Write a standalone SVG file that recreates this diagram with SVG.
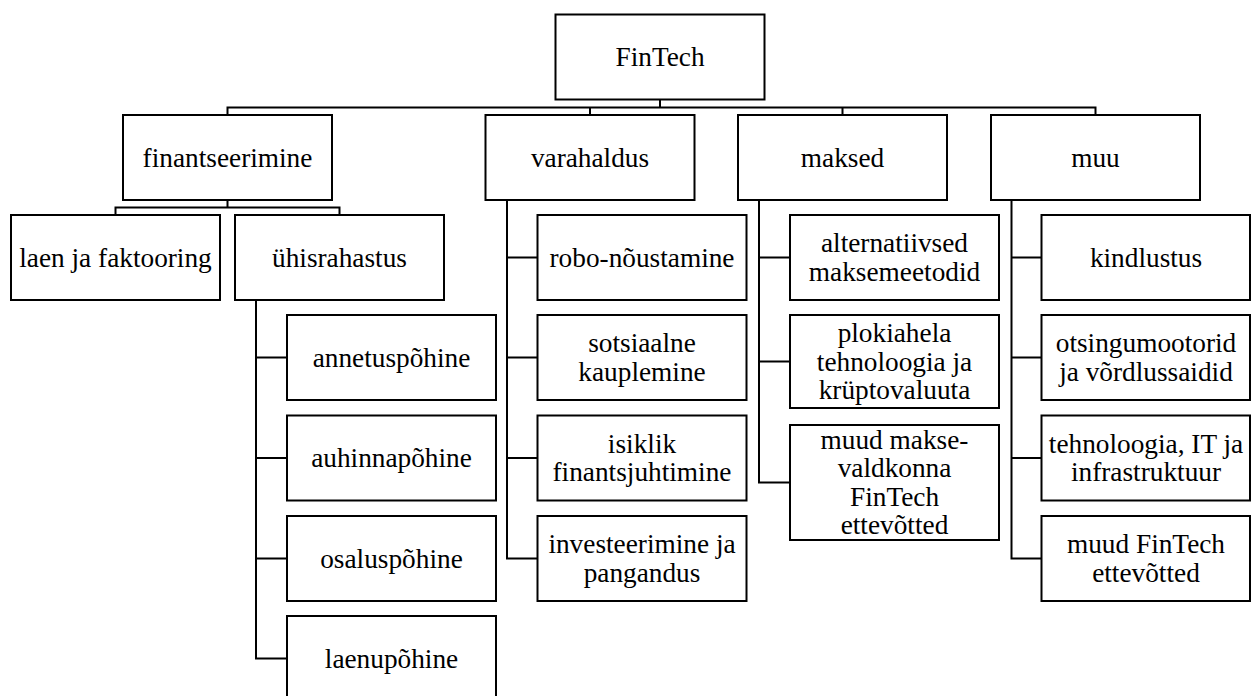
<svg xmlns="http://www.w3.org/2000/svg" width="1251" height="696" viewBox="0 0 1251 696">
<style>
.box{fill:#fff;stroke:#000;stroke-width:2}
.lbl{font-family:"Liberation Serif","Times New Roman",serif;font-size:27.3px;fill:#000;text-anchor:middle}
.con{fill:none;stroke:#000;stroke-width:2;stroke-linejoin:miter}
</style>
<rect width="1251" height="696" fill="#fff"/>
<g id="connectors" class="con">
<path d="M660 99.5V107.5M227.5 115V107.5H1095.5V115M590 107.5V115M842.5 107.5V115"/>
<path d="M227.5 200V207.5M115.5 215V207.5H339.5V215"/>
<path d="M256 300V658.5H287M256 357.5H287M256 458H287M256 558.5H287"/>
<path d="M507 200V558.5H537.5M507 257.5H537.5M507 357.5H537.5M507 458H537.5"/>
<path d="M759 200V482.5H790M759 257.5H790M759 361.5H790"/>
<path d="M1011.5 200V558.5H1041.5M1011.5 257.5H1041.5M1011.5 357.5H1041.5M1011.5 458H1041.5"/>
</g>
<g id="n-fintech"><rect class="box" x="555.5" y="14.5" width="209" height="85"/><text class="lbl" x="660" y="66">FinTech</text></g>
<g id="n-finantseerimine"><rect class="box" x="123" y="115" width="209" height="85"/><text class="lbl" x="227.5" y="166.5">finantseerimine</text></g>
<g id="n-varahaldus"><rect class="box" x="485.5" y="115" width="209" height="85"/><text class="lbl" x="590" y="166.5">varahaldus</text></g>
<g id="n-maksed"><rect class="box" x="738" y="115" width="209" height="85"/><text class="lbl" x="842.5" y="166.5">maksed</text></g>
<g id="n-muu"><rect class="box" x="991" y="115" width="209" height="85"/><text class="lbl" x="1095.5" y="166.5">muu</text></g>
<g id="n-laen"><rect class="box" x="11" y="215" width="209" height="85"/><text class="lbl" x="115.5" y="266.5">laen ja faktooring</text></g>
<g id="n-uhisrahastus"><rect class="box" x="235" y="215" width="209" height="85"/><text class="lbl" x="339.5" y="266.5">ühisrahastus</text></g>
<g id="n-annetus"><rect class="box" x="287" y="315" width="209" height="85"/><text class="lbl" x="391.5" y="366.5">annetuspõhine</text></g>
<g id="n-auhinna"><rect class="box" x="287" y="415.5" width="209" height="85"/><text class="lbl" x="391.5" y="467">auhinnapõhine</text></g>
<g id="n-osalus"><rect class="box" x="287" y="516" width="209" height="85"/><text class="lbl" x="391.5" y="567.5">osaluspõhine</text></g>
<g id="n-laenu"><rect class="box" x="287" y="616" width="209" height="85"/><text class="lbl" x="391.5" y="667.5">laenupõhine</text></g>
<g id="n-robo"><rect class="box" x="537.5" y="215" width="209" height="85"/><text class="lbl" x="642" y="266.5">robo-nõustamine</text></g>
<g id="n-sotsiaalne"><rect class="box" x="537.5" y="315" width="209" height="85"/><text class="lbl" x="642" y="352.4">sotsiaalne</text><text class="lbl" x="642" y="380.7">kauplemine</text></g>
<g id="n-isiklik"><rect class="box" x="537.5" y="415.5" width="209" height="85"/><text class="lbl" x="642" y="452.9">isiklik</text><text class="lbl" x="642" y="481.2">finantsjuhtimine</text></g>
<g id="n-investeerimine"><rect class="box" x="537.5" y="516" width="209" height="85"/><text class="lbl" x="642" y="553.4">investeerimine ja</text><text class="lbl" x="642" y="581.7">pangandus</text></g>
<g id="n-alternatiivsed"><rect class="box" x="790" y="215" width="209" height="85"/><text class="lbl" x="894.5" y="252.4">alternatiivsed</text><text class="lbl" x="894.5" y="280.7">maksemeetodid</text></g>
<g id="n-plokiahela"><rect class="box" x="790" y="315" width="209" height="93"/><text class="lbl" x="894.5" y="342.2">plokiahela</text><text class="lbl" x="894.5" y="370.5">tehnoloogia ja</text><text class="lbl" x="894.5" y="398.8">krüptovaluuta</text></g>
<g id="n-muudmakse"><rect class="box" x="790" y="425" width="209" height="115"/><text class="lbl" x="894.5" y="449">muud makse-</text><text class="lbl" x="894.5" y="477.3">valdkonna</text><text class="lbl" x="894.5" y="505.6">FinTech</text><text class="lbl" x="894.5" y="533.9">ettevõtted</text></g>
<g id="n-kindlustus"><rect class="box" x="1041.5" y="215" width="208.5" height="85"/><text class="lbl" x="1146" y="266.5">kindlustus</text></g>
<g id="n-otsingu"><rect class="box" x="1041.5" y="315" width="208.5" height="85"/><text class="lbl" x="1146" y="352.4">otsingumootorid</text><text class="lbl" x="1146" y="380.7">ja võrdlussaidid</text></g>
<g id="n-tehnoloogia"><rect class="box" x="1041.5" y="415.5" width="208.5" height="85"/><text class="lbl" x="1146" y="452.9">tehnoloogia, IT ja</text><text class="lbl" x="1146" y="481.2">infrastruktuur</text></g>
<g id="n-muudfintech"><rect class="box" x="1041.5" y="516" width="208.5" height="85"/><text class="lbl" x="1146" y="553.4">muud FinTech</text><text class="lbl" x="1146" y="581.7">ettevõtted</text></g>
</svg>
